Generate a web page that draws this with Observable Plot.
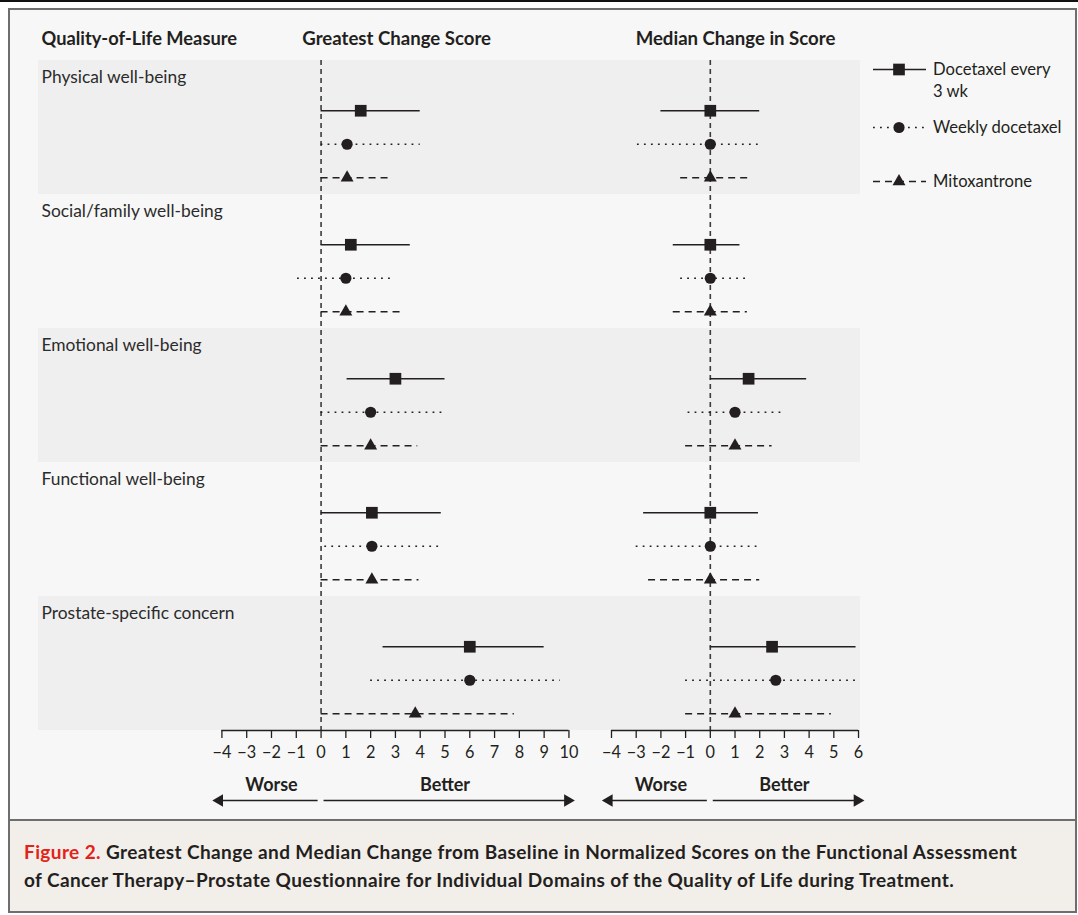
<!DOCTYPE html>
<html><head><meta charset="utf-8">
<script src="https://cdn.jsdelivr.net/npm/d3@7"></script>
<script src="https://cdn.jsdelivr.net/npm/@observablehq/plot@0.6"></script>
<style>
body{margin:0;background:#fff;font-family:Lato,"Open Sans",sans-serif;color:#231f20}
#page{position:relative;width:1078px;height:915px;overflow:hidden;background:#fff}
#topline{position:absolute;left:0;top:0;width:1078px;height:2px;background:#111}
#frame{position:absolute;left:8px;top:8px;width:1069px;height:813px;border:2px solid #6e6e6e;background:#f7f7f7;box-sizing:border-box}
#caption{position:absolute;left:8px;top:819px;width:1069px;height:94px;border:2px solid #6e6e6e;background:#f2eee9;box-sizing:border-box;padding:17px 0 0 14px;font-weight:700;font-size:19px;letter-spacing:0.4px;line-height:28px;color:#231f20;white-space:nowrap}
#caption .fig{color:#e2231a}
.panel{position:absolute;top:18px}
#legend{position:absolute;left:870px;top:58px;font-size:16.6px;color:#231f20}
.li{position:absolute;display:flex;align-items:flex-start;white-space:nowrap}
.li svg{display:block;flex:none}
.li span{line-height:22px}
</style></head>
<body><div id="page">
<div id="topline"></div>
<div id="frame"></div>
<div id="left" class="panel" style="left:38px"></div>
<div id="right" class="panel" style="left:590px"></div>
<div id="legend"></div>
<div id="caption"><span class="fig">Figure 2.</span> Greatest Change and Median Change from Baseline in Normalized Scores on the Functional Assessment<br>of Cancer Therapy–Prostate Questionnaire for Individual Domains of the Quality of Life during Treatment.</div>
</div>
<script>
// ---------- data ----------
const measures = ["Physical well-being","Social/family well-being","Emotional well-being","Functional well-being","Prostate-specific concern"];
const treatments = ["Docetaxel every 3 wk","Weekly docetaxel","Mitoxantrone"];
const shadedMeasures = [0, 2, 4];

// Greatest change score: estimate, lower, upper  [measure][treatment]
const greatestEst  = [[1.6,1.05,1.05],[1.2,1.0,1.0],[3.0,2.0,2.0],[2.05,2.05,2.05],[6.0,6.0,3.8]];
const greatestLow  = [[0,0,0],[0,-0.95,0],[1.05,0,0],[0,0.15,0],[2.5,2.0,0]];
const greatestHigh = [[4.0,4.0,2.9],[3.6,2.9,3.35],[5.0,5.0,3.9],[4.85,4.85,3.95],[9.0,9.65,7.8]];

// Median change in score
const medianEst  = [[0,0,0],[0,0,0],[1.55,1.0,1.0],[0,0,0],[2.5,2.65,1.0]];
const medianLow  = [[-2.0,-2.95,-1.2],[-1.5,-1.2,-1.5],[0,-0.9,-1.0],[-2.7,-3.0,-2.5],[0,-1.0,-1.0]];
const medianHigh = [[2.0,2.05,1.55],[1.2,1.6,1.5],[3.9,3.0,2.5],[1.95,2.0,2.0],[5.9,5.9,4.9]];

const greatestTicks = d3.range(-4, 11);
const medianTicks = d3.range(-4, 7);

// ---------- styles per treatment ----------
const lineStyle = [
  {strokeDasharray: null, strokeWidth: 1.5},
  {strokeDasharray: "1.8,5.2", strokeWidth: 1.7},
  {strokeDasharray: "7,5", strokeWidth: 1.5}
];
const symbolStyle = [
  {symbol: "square", r: 6.6},
  {symbol: "circle", r: 5.6},
  {symbol: "triangle", r: 4.8}
];
const ink = "#231f20";
const fmt = d => d < 0 ? "\u2212" + (-d) : String(d);

function rowsFor(est, lo, hi) {
  const out = [];
  measures.forEach((m, i) => treatments.forEach((t, j) => {
    out.push({measure: m, treatment: t, j, slot: i * 4 + j + 1, est: est[i][j], lo: lo[i][j], hi: hi[i][j]});
  }));
  return out;
}

function panel({rows, domain, width, ticks, header, headerX, worseX, betterX, worseArrow, betterArrow, labels}) {
  const [xMin, xMax] = domain;
  const tMin = ticks[0], tMax = ticks[ticks.length - 1];
  const marks = [
    Plot.rect(shadedMeasures, {x1: xMin, x2: xMax, y1: d => d * 4 - 0.5, y2: d => d * 4 + 3.5, fill: "#efefef"}),
    Plot.ruleX([0], {y1: -0.5, y2: 19.5, stroke: "#3c3c3c", strokeWidth: 1.6, strokeDasharray: "5,4"})
  ];
  treatments.forEach((t, j) => {
    marks.push(Plot.ruleY(rows, {filter: d => d.j === j, y: "slot", x1: "lo", x2: "hi", stroke: ink, ...lineStyle[j]}));
  });
  treatments.forEach((t, j) => {
    marks.push(Plot.dot(rows, {filter: d => d.j === j, x: "est", y: "slot", fill: ink, stroke: "none", ...symbolStyle[j]}));
  });
  if (labels) {
    marks.push(Plot.text(measures, {x: xMin, y: (d, i) => i * 4, text: d => d, textAnchor: "start", dx: 3, fontSize: 17.4, fill: "#2b2b2b"}));
    marks.push(Plot.text(["Quality-of-Life Measure"], {x: xMin, frameAnchor: "top", lineAnchor: "middle", dx: 3, dy: -21, text: d => d, textAnchor: "start", fontSize: 18.3, fontWeight: 700, fill: ink}));
  }
  marks.push(Plot.text([header], {x: headerX, frameAnchor: "top", lineAnchor: "middle", dy: -21, text: d => d, fontSize: 18.6, fontWeight: 700, fill: ink}));
  // axis
  marks.push(Plot.ruleY([19.5], {x1: tMin, x2: tMax, stroke: ink, strokeWidth: 1.5}));
  marks.push(Plot.axisX({ticks, tickSize: 8, tickPadding: 8, tickFormat: fmt, fontSize: 16.3, strokeWidth: 1.3, stroke: ink, fill: ink}));
  // worse / better
  marks.push(Plot.text(["Worse"], {x: worseX, frameAnchor: "bottom", lineAnchor: "middle", dy: 55, text: d => d, fontSize: 18, fontWeight: 700, fill: ink}));
  marks.push(Plot.text(["Better"], {x: betterX, frameAnchor: "bottom", lineAnchor: "middle", dy: 55, text: d => d, fontSize: 18, fontWeight: 700, fill: ink}));
  marks.push(Plot.ruleY([19.5], {x1: worseArrow[0], x2: worseArrow[1], dy: 70, stroke: ink, strokeWidth: 1.5}));
  marks.push(Plot.ruleY([19.5], {x1: betterArrow[0], x2: betterArrow[1], dy: 70, stroke: ink, strokeWidth: 1.5}));
  marks.push(Plot.dot([worseArrow[1]], {x: d => d, y: 19.5, dy: 70, symbol: "triangle", r: 4.6, rotate: -90, fill: ink, stroke: "none"}));
  marks.push(Plot.dot([betterArrow[1]], {x: d => d, y: 19.5, dy: 70, symbol: "triangle", r: 4.6, rotate: 90, fill: ink, stroke: "none"}));

  return Plot.plot({
    width, height: 792,
    marginLeft: 0, marginRight: 0, marginTop: 42, marginBottom: 80,
    x: {domain: [xMin, xMax], axis: null},
    y: {domain: [-0.5, 19.5], reverse: true, axis: null},
    style: {background: "transparent", overflow: "visible", fontFamily: "Lato, 'Open Sans', sans-serif", color: ink},
    marks
  });
}

document.getElementById("left").append(panel({
  rows: rowsFor(greatestEst, greatestLow, greatestHigh),
  domain: [-11.4, 10.87], width: 552, ticks: greatestTicks,
  header: "Greatest Change Score", headerX: 3.05,
  worseX: -2, betterX: 5, worseArrow: [-0.12, -4.1], betterArrow: [0.12, 9.95], labels: true
}));
document.getElementById("right").append(panel({
  rows: rowsFor(medianEst, medianLow, medianHigh),
  domain: [-4.85, 6.08], width: 270, ticks: medianTicks,
  header: "Median Change in Score", headerX: 1.02,
  worseX: -2, betterX: 3, worseArrow: [-0.12, -4.1], betterArrow: [0.12, 5.95], labels: false
}));

// ---------- legend ----------
const legend = d3.select("#legend");
const legendTops = [0, 58, 112];
const legendText = [["Docetaxel every", "3 wk"], ["Weekly docetaxel"], ["Mitoxantrone"]];
treatments.forEach((t, j) => {
  const item = legend.append("div").attr("class", "li").style("left", "0px").style("top", legendTops[j] + "px");
  const svg = item.append("svg").attr("width", 63).attr("height", 22);
  svg.append("line").attr("x1", 3).attr("x2", 56).attr("y1", 11.5).attr("y2", 11.5)
    .attr("stroke", ink).attr("stroke-width", lineStyle[j].strokeWidth)
    .attr("stroke-dasharray", lineStyle[j].strokeDasharray);
  const s = symbolStyle[j];
  const sym = {square: d3.symbolSquare, circle: d3.symbolCircle, triangle: d3.symbolTriangle}[s.symbol];
  svg.append("path").attr("transform", "translate(29,11.5)").attr("d", d3.symbol(sym, Math.PI * s.r * s.r)()).attr("fill", ink);
  const txt = item.append("span");
  legendText[j].forEach((line, k) => { if (k) txt.append("br"); txt.append("tspan").text(line); });
});
</script>
</body></html>
